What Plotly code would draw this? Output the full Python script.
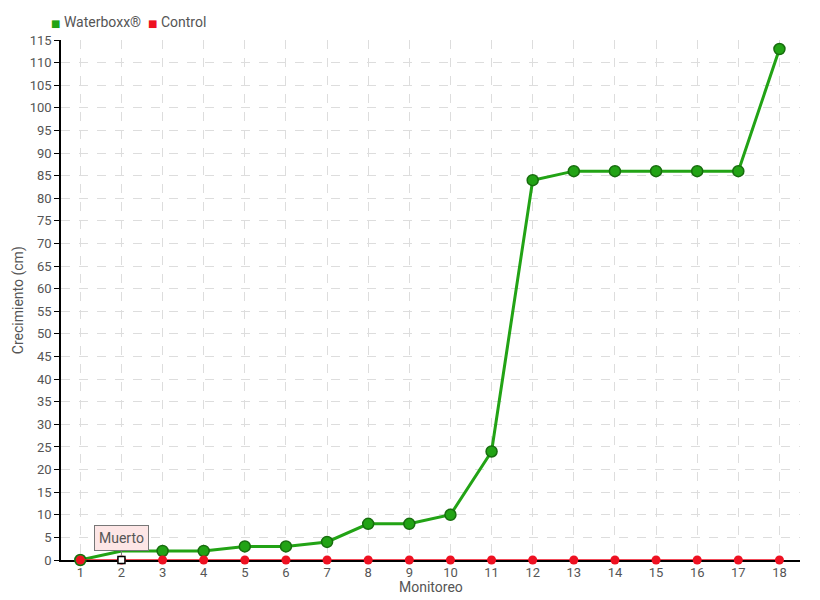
import plotly.graph_objects as go

monitoreo = list(range(1, 19))
waterboxx = [0, 2, 2, 2, 3, 3, 4, 8, 8, 10, 24, 84, 86, 86, 86, 86, 86, 113]
control = [0] * 18
y_ticks = list(range(0, 120, 5))

FONT = "Roboto, DejaVu Sans, sans-serif"
GREEN = "#22a315"
RED = "#ee1122"
TXT = "#555"

# green markers everywhere except point 2 (hidden)
wb_sizes = [11 if i != 1 else 0 for i in range(len(monitoreo))]

fig = go.Figure()
fig.add_trace(go.Scatter(
    x=monitoreo, y=waterboxx, name="Waterboxx®", mode="lines+markers", cliponaxis=False,
    line=dict(color=GREEN, width=3),
    marker=dict(size=wb_sizes, color=GREEN, opacity=1, line=dict(color="#176d0e", width=1.5)),
))
fig.add_trace(go.Scatter(
    x=monitoreo, y=control, name="Control", mode="lines+markers", cliponaxis=False,
    line=dict(color=RED, width=1.5),
    marker=dict(size=9, color=RED, opacity=1),
))
# "Muerto" point
fig.add_trace(go.Scatter(
    x=[monitoreo[1]], y=[control[1]], mode="markers", showlegend=False, cliponaxis=False,
    marker=dict(symbol="square", size=7, color="white", line=dict(color="black", width=1.5)),
))

fig.add_annotation(
    x=monitoreo[1], y=control[1], text="Muerto", showarrow=True,
    ax=0, ay=-22, arrowhead=0, arrowwidth=1, arrowcolor="#777", standoff=4,
    bgcolor="#fde6e6", bordercolor="#777", borderwidth=1, borderpad=4,
    font=dict(family=FONT, size=14, color=TXT),
)

# compact legend, square swatch right before the name
legend_txt = (f"<span style='color:{GREEN};font-size:10px'>■</span> Waterboxx®  "
              f"<span style='color:{RED};font-size:10px'>■</span> Control")
fig.add_annotation(
    text=legend_txt, xref="paper", yref="paper", x=-0.016, y=1.035,
    xanchor="left", yanchor="middle", showarrow=False,
    font=dict(family=FONT, size=14, color=TXT),
)
# axis titles
fig.add_annotation(
    text="Monitoreo", xref="paper", yref="paper", x=0.5, y=-0.052,
    xanchor="center", yanchor="middle", showarrow=False,
    font=dict(family=FONT, size=14, color=TXT),
)
fig.add_annotation(
    text="Crecimiento (cm)", xref="paper", yref="paper", x=-0.058, y=0.5,
    xanchor="center", yanchor="middle", showarrow=False, textangle=-90,
    font=dict(family=FONT, size=14, color=TXT),
)

# page body has an 8px margin, so the margins compensate for it
fig.update_layout(
    width=820, height=600,
    margin=dict(l=53, r=28, t=32, b=48),
    plot_bgcolor="white", paper_bgcolor="white",
    font=dict(family=FONT, size=14, color=TXT),
    showlegend=False,
    xaxis=dict(
        range=[0.53, 18.5], tickmode="array", tickvals=monitoreo,
        showgrid=True, gridcolor="#dddddd", griddash="dash", gridwidth=1,
        zeroline=False, showline=True, linecolor="black", linewidth=1.5,
        ticks="", tickfont=dict(size=13), automargin=False, layer="below traces",
    ),
    yaxis=dict(
        range=[0, 115], tickmode="array", tickvals=y_ticks,
        showgrid=True, gridcolor="#dddddd", griddash="dash", gridwidth=1,
        zeroline=False, showline=True, linecolor="black", linewidth=1.5,
        ticks="outside", ticklen=5, tickcolor="black", tickfont=dict(size=13),
        automargin=False, layer="below traces",
    ),
)

fig.write_html("out.html")
